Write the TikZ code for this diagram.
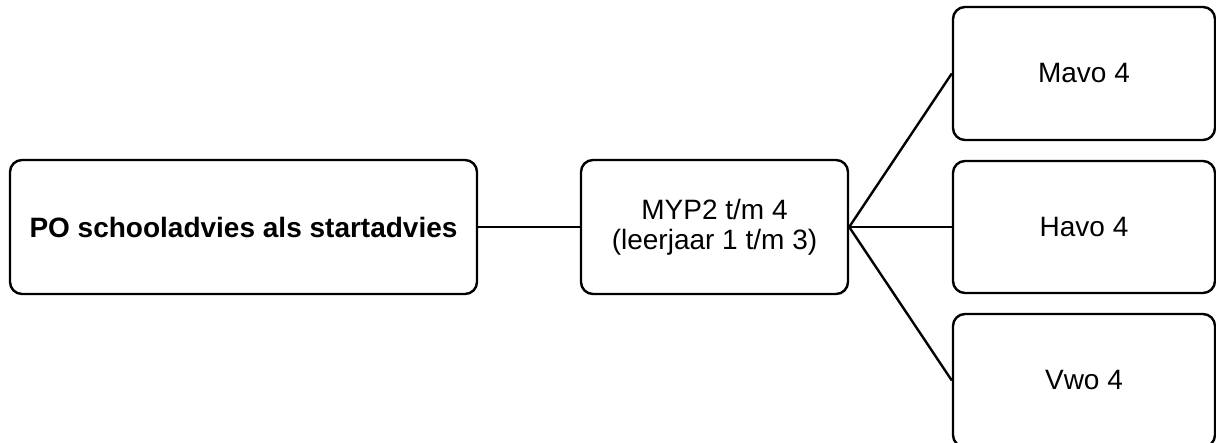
\documentclass[tikz,border=0pt]{standalone}
\usepackage{fontspec}
\setmainfont{Liberation Sans}
\tikzset{
  box/.style={draw, line width=2.4pt, rounded corners=12pt, align=center,
    font=\fontsize{28}{30}\selectfont, inner sep=0pt}
}
\begin{document}
\begin{tikzpicture}[x=1pt,y=-1pt]
        \useasboundingbox (0,0) rectangle (1216,443);
        \node[box, minimum width=467pt, minimum height=134pt] (po) at (243.5,227) {\textbf{PO schooladvies als startadvies}};
        \node[box, minimum width=267pt, minimum height=134pt] (myp) at (714.5,227) {MYP2 t/m 4\\(leerjaar 1 t/m 3)};
        \node[box, minimum width=262pt, minimum height=133pt] (mavo) at (1084,73.5) {Mavo 4};
        \node[box, minimum width=262pt, minimum height=132pt] (havo) at (1084,227) {Havo 4};
        \node[box, minimum width=262pt, minimum height=133pt] (vwo) at (1084,380.5) {Vwo 4};
        \draw[line width=2.4pt] (po) -- (myp);
        \draw[line width=2.4pt] (myp.east) -- (mavo.west);
        \draw[line width=2.4pt] (myp.east) -- (havo.west);
        \draw[line width=2.4pt] (myp.east) -- (vwo.west);
      \end{tikzpicture}
\end{document}
